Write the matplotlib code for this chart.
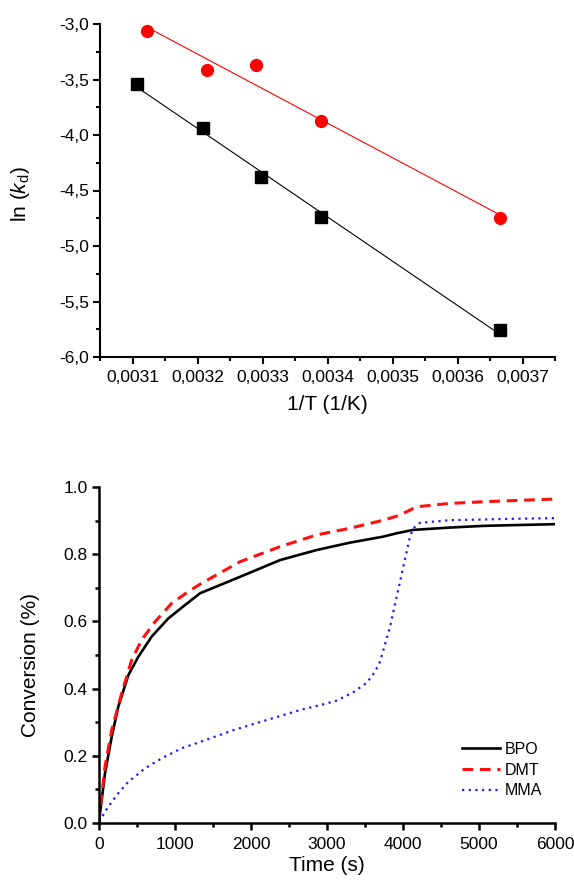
import numpy as np
import matplotlib
matplotlib.use("Agg")
import matplotlib.pyplot as plt
from matplotlib.ticker import MultipleLocator, FuncFormatter

plt.rcParams['font.family'] = ['Liberation Sans', 'DejaVu Sans']
plt.rcParams['mathtext.fontset'] = 'custom'
plt.rcParams['mathtext.rm'] = 'Liberation Sans'
plt.rcParams['mathtext.it'] = 'Liberation Sans:italic'

# Arrhenius data: 1/T and ln(kd)
invT_black = [0.003107, 0.003208, 0.003297, 0.003390, 0.003665]
lnk_black = [-3.54, -3.94, -4.38, -4.743, -5.76]
invT_red = [0.003122, 0.003214, 0.003290, 0.003390, 0.003665]
lnk_red = [-3.066, -3.414, -3.366, -3.876, -4.752]

# conversion vs time
t_bpo = [0, 13, 79, 167, 254, 386, 518, 693, 912, 1132, 1329, 1855, 2382,
         2864, 3303, 3742, 3917, 4136, 4619, 5057, 5408, 6000]
c_bpo = [0.0, 0.028, 0.147, 0.256, 0.346, 0.44, 0.495, 0.555, 0.609, 0.649,
         0.684, 0.733, 0.783, 0.813, 0.835, 0.853, 0.863, 0.873, 0.88, 0.885,
         0.887, 0.89]
t_dmt = [0, 13, 79, 167, 298, 430, 561, 737, 956, 1175, 1351, 1855, 2382,
         2864, 3303, 3742, 3917, 4048, 4180, 4619, 5057, 5408, 6000]
c_dmt = [0.0, 0.035, 0.167, 0.276, 0.386, 0.485, 0.545, 0.599, 0.654, 0.689,
         0.714, 0.778, 0.823, 0.858, 0.878, 0.902, 0.914, 0.927, 0.942, 0.952,
         0.957, 0.96, 0.965]
t_mma = [0, 123, 254, 386, 605, 825, 1088, 1373, 1767, 2206, 2645, 2952, 3127,
         3346, 3522, 3632, 3697, 3742, 3829, 3917, 4004, 4092, 4136, 4224, 4619,
         5057, 5408, 6000]
c_mma = [0.003, 0.048, 0.088, 0.122, 0.162, 0.192, 0.222, 0.244, 0.276, 0.306,
         0.336, 0.353, 0.364, 0.389, 0.417, 0.45, 0.48, 0.515, 0.584, 0.674,
         0.763, 0.853, 0.878, 0.894, 0.902, 0.904, 0.906, 0.908]

W, H = 574, 884
fig = plt.figure(figsize=(W / 100, H / 100), dpi=100)


def style_axes(ax, lw):
    for s in ['top', 'right']:
        ax.spines[s].set_visible(False)
    for s in ['left', 'bottom']:
        ax.spines[s].set_linewidth(lw)
    ax.tick_params(which='major', direction='out', length=5, width=lw)
    ax.tick_params(which='minor', direction='out', length=3, width=lw)


# ---- top: ln(kd) vs 1/T ----
ax1 = fig.add_axes([100 / W, 1 - 357 / H, 455 / W, 333 / H])
xs = np.array([invT_black[0], invT_black[-1]])
p = np.polyfit(invT_black, lnk_black, 1)
ax1.plot(xs, np.polyval(p, xs), color='black', lw=0.8)
xs = np.array([invT_red[0], invT_red[-1]])
p = np.polyfit(invT_red, lnk_red, 1)
ax1.plot(xs, np.polyval(p, xs), color='#ff0000', lw=0.8)
ax1.plot(invT_black, lnk_black, 's', color='black', ms=8, clip_on=False)
ax1.plot(invT_red, lnk_red, 'o', color='#ff0000', ms=8.5, clip_on=False)
ax1.set_xlim(0.00305, 0.00375)
ax1.set_ylim(-6.0, -3.0)
ax1.xaxis.set_major_locator(MultipleLocator(0.0001))
ax1.xaxis.set_minor_locator(MultipleLocator(0.00005))
ax1.yaxis.set_major_locator(MultipleLocator(0.5))
ax1.yaxis.set_minor_locator(MultipleLocator(0.25))
ax1.xaxis.set_major_formatter(FuncFormatter(lambda v, _: ('%.4f' % v).replace('.', ',')))
ax1.yaxis.set_major_formatter(FuncFormatter(lambda v, _: ('%.1f' % v).replace('.', ',')))
style_axes(ax1, 1.5)
ax1.tick_params(axis='both', labelsize=12.5)
ax1.tick_params(axis='x', pad=4)
ax1.tick_params(axis='y', pad=3)
ax1.set_xlabel('1/T (1/K)', fontsize=15)
ax1.set_ylabel(r'ln ($\mathit{k}_\mathrm{d}$)', fontsize=15)
ax1.xaxis.set_label_coords(0.5, -0.115)
ax1.yaxis.set_label_coords(-0.15, 0.49)

# ---- bottom: conversion vs time ----
ax2 = fig.add_axes([99 / W, 1 - 822.7 / H, 456 / W, 335.4 / H])
ax2.plot(t_bpo, c_bpo, color='black', lw=1.9, label='BPO')
ax2.plot(t_dmt, c_dmt, color='#ff1010', lw=2.2, ls=(0, (3.5, 2.2)), label='DMT')
ax2.plot(t_mma, c_mma, color='#1a1aff', lw=1.6, ls=(0, (1, 2)), label='MMA')
ax2.set_xlim(0, 6000)
ax2.set_ylim(0, 1.0)
ax2.xaxis.set_major_locator(MultipleLocator(1000))
ax2.xaxis.set_minor_locator(MultipleLocator(500))
ax2.yaxis.set_major_locator(MultipleLocator(0.2))
ax2.yaxis.set_minor_locator(MultipleLocator(0.1))
ax2.yaxis.set_major_formatter(FuncFormatter(lambda v, _: '%.1f' % v))
style_axes(ax2, 1.8)
ax2.tick_params(axis='both', labelsize=12.5)
ax2.tick_params(axis='x', pad=5)
ax2.tick_params(axis='y', pad=3)
ax2.set_xlabel('Time (s)', fontsize=15)
ax2.set_ylabel('Conversion (%)', fontsize=15)
ax2.xaxis.set_label_coords(0.5, -0.1)
ax2.yaxis.set_label_coords(-0.13, 0.47)
ax2.legend(loc='center left', bbox_to_anchor=(0.796, 0.157), frameon=False,
           fontsize=11.5, handlelength=2.4, handletextpad=0.3, borderpad=0,
           borderaxespad=0, labelspacing=0.35)

fig.savefig('out.png', dpi=100)
